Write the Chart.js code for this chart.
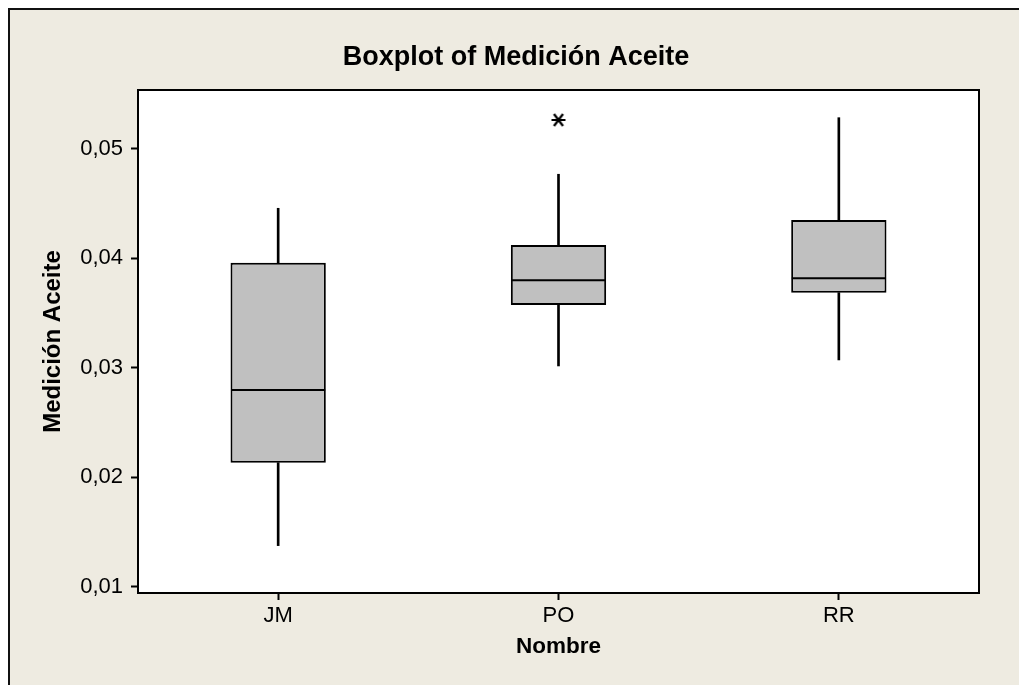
<!DOCTYPE html>
<html>
<head>
<meta charset="utf-8">
<script src="https://cdn.jsdelivr.net/npm/chart.js@4/dist/chart.umd.min.js"></script>
<style>
  body { margin: 0; background: #fff; overflow: hidden; }
  #cadre {
    position: absolute; left: 8px; top: 8px; width: 1100px; height: 800px;
    background: #eeebe1; border-left: 2px solid #111; border-top: 2px solid #111;
  }
  #boxplot { position: absolute; left: 0; top: 0; }
</style>
</head>
<body>
<div id="cadre"></div>
<canvas id="boxplot" width="980" height="685"></canvas>
<script>
// Données
const categories = ['JM', 'PO', 'RR'];
const minimos = [0.01375, 0.03017, 0.03072];
const q1 = [0.02133, 0.03574, 0.03687];
const medianas = [0.02797, 0.03800, 0.03818];
const q3 = [0.03961, 0.04123, 0.04351];
const maximos = [0.04458, 0.04769, 0.05286];
const atipicos = [null, 0.05265, null];
const yTicks = [0.01, 0.02, 0.03, 0.04, 0.05];

// Astérisque de Minitab pour les valeurs aberrantes
function asterisque() {
    const c = document.createElement('canvas');
    c.width = 16; c.height = 16;
    const g = c.getContext('2d');
    g.strokeStyle = '#000';
    g.lineWidth = 2.2;
    g.beginPath();
    g.moveTo(1, 8); g.lineTo(15, 8);
    g.moveTo(3.5, 2); g.lineTo(12.5, 14);
    g.moveTo(12.5, 2); g.lineTo(3.5, 14);
    g.stroke();
    return c;
}

// Fond blanc et cadre de la zone de tracé
const cadrePlugin = {
    id: 'cadrePlugin',
    beforeDraw(chart) {
        const { ctx, chartArea: a } = chart;
        ctx.save();
        ctx.fillStyle = '#fff';
        ctx.fillRect(a.left, a.top, a.right - a.left, a.bottom - a.top);
        ctx.restore();
    },
    afterDraw(chart) {
        const { ctx, chartArea: a } = chart;
        ctx.save();
        ctx.strokeStyle = '#000';
        ctx.lineWidth = 2;
        ctx.strokeRect(a.left, a.top, a.right - a.left, a.bottom - a.top);
        ctx.restore();
    }
};

const ctx = document.getElementById('boxplot').getContext('2d');
new Chart(ctx, {
    type: 'bar',
    data: {
        labels: categories,
        datasets: [
            // valeurs aberrantes
            { type: 'line', data: atipicos, showLine: false, pointStyle: asterisque(), pointRadius: 8 },
            // médianes (trait horizontal de la largeur de la boîte)
            {
                type: 'line', data: medianas, showLine: false, pointStyle: 'line',
                pointRadius: 47, pointBorderWidth: 2, pointBorderColor: '#000'
            },
            // boîtes Q1 - Q3
            {
                data: q1.map((v, i) => [v, q3[i]]),
                backgroundColor: '#c0c0c0', borderColor: '#000', borderWidth: 2,
                borderSkipped: false, inflateAmount: 0, grouped: false,
                barPercentage: 0.34, categoryPercentage: 1
            },
            // moustaches
            { data: q3.map((v, i) => [v, maximos[i]]), backgroundColor: '#000', borderWidth: 0, grouped: false, barThickness: 2 },
            { data: minimos.map((v, i) => [v, q1[i]]), backgroundColor: '#000', borderWidth: 0, grouped: false, barThickness: 2 }
        ]
    },
    options: {
        responsive: false,
        animation: false,
        devicePixelRatio: 1,
        layout: { autoPadding: false, padding: { left: 53, right: 1, top: 0, bottom: 0 } },
        plugins: {
            legend: { display: false },
            tooltip: { enabled: false },
            title: {
                display: true,
                text: 'Boxplot of Medición Aceite',
                color: '#000',
                font: { family: 'Liberation Sans', size: 27, weight: 'bold', lineHeight: 1 },
                padding: { top: 44, bottom: 19 }
            }
        },
        scales: {
            x: {
                afterFit: s => { s.height = 92; s.paddingLeft = 0; s.paddingRight = 0; },
                border: { display: false },
                grid: { offset: false, drawOnChartArea: false, tickLength: 7, tickColor: '#000', tickWidth: 2 },
                ticks: { color: '#000', padding: 5, font: { family: 'Liberation Sans', size: 22, lineHeight: 1 } },
                title: {
                    display: true, text: 'Nombre', color: '#000',
                    font: { family: 'Liberation Sans', size: 22.5, weight: 'bold', lineHeight: 1 },
                    padding: { top: 0, bottom: 27 }
                }
            },
            y: {
                min: 0.00942,
                max: 0.05539,
                afterFit: s => { s.width = 85; s.paddingTop = 0; s.paddingBottom = 0; },
                afterBuildTicks: s => { s.ticks = yTicks.map(v => ({ value: v })); },
                border: { display: false },
                grid: { drawOnChartArea: false, tickLength: 7, tickColor: '#000', tickWidth: 2 },
                ticks: {
                    color: '#000', padding: 8,
                    font: { family: 'Liberation Sans', size: 22, lineHeight: 1 },
                    callback: v => v.toFixed(2).replace('.', ',')
                },
                title: {
                    display: true, text: 'Medición Aceite', color: '#000',
                    font: { family: 'Liberation Sans', size: 24, weight: 'bold', lineHeight: 1 },
                    padding: { top: -12, bottom: 0 }
                }
            }
        }
    },
    plugins: [cadrePlugin]
});
</script>
</body>
</html>
